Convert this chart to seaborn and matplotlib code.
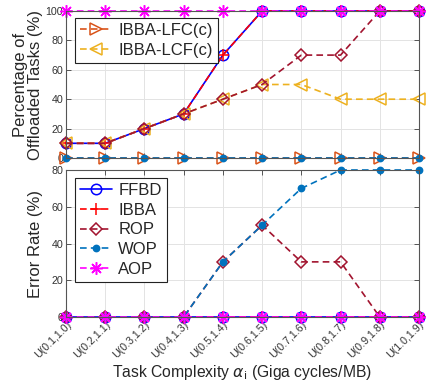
import numpy as np
import pandas as pd
import matplotlib
matplotlib.use("Agg")
import matplotlib.pyplot as plt
import seaborn as sns

# ---------------- data ----------------
x_labels = ["U(0.1,1.0)", "U(0.2,1.1)", "U(0.3,1.2)", "U(0.4,1.3)", "U(0.5,1.4)",
            "U(0.6,1.5)", "U(0.7,1.6)", "U(0.8,1.7)", "U(0.9,1.8)", "U(1.0,1.9)"]
x_pos = list(range(1, 11))

# Percentage of offloaded tasks (%)
off_ffbd = [10, 10, 20, 30, 70, 100, 100, 100, 100, 100]
off_ibba = [10, 10, 20, 30, 70, 100, 100, 100, 100, 100]
off_lfc = [0, 0, 0, 0, 0, 0, 0, 0, 0, 0]
off_lcf = [10, 10, 20, 30, 40, 50, 50, 40, 40, 40]
off_rop = [10, 10, 20, 30, 40, 50, 70, 70, 100, 100]
off_wop = [0, 0, 0, 0, 0, 0, 0, 0, 0, 0]
off_aop = [100, 100, 100, 100, 100, 100, 100, 100, 100, 100]

# Error rate (%)
err_ffbd = [0, 0, 0, 0, 0, 0, 0, 0, 0, 0]
err_ibba = [0, 0, 0, 0, 0, 0, 0, 0, 0, 0]
err_rop = [0, 0, 0, 0, 30, 50, 30, 30, 0, 0]
err_wop = [0, 0, 0, 0, 30, 50, 70, 80, 80, 80]
err_aop = [0, 0, 0, 0, 0, 0, 0, 0, 0, 0]

# ---------------- style ----------------
sns.set_theme(style="whitegrid")
plt.rcParams["font.family"] = ["Liberation Sans", "DejaVu Sans"]
plt.rcParams["axes.edgecolor"] = "#555555"
plt.rcParams["axes.linewidth"] = 0.8
plt.rcParams["grid.color"] = "#e3e3e3"
plt.rcParams["grid.linewidth"] = 0.7

C_BLUE = "#0000ff"
C_RED = "#ff0000"
C_ROP = "#a2142f"
C_WOP = "#0072bd"
C_LFC = "#d95319"
C_LCF = "#edb120"
C_AOP = "#ff00ff"
STAR = (8, 2, 0)

fig = plt.figure(figsize=(4.27, 3.91), dpi=100)
W, H = 427.0, 391.0
ax_l, ax_r = 66 / W, 419 / W
ax1 = fig.add_axes([ax_l, 1 - 158 / H, ax_r - ax_l, (158 - 11) / H])
ax2 = fig.add_axes([ax_l, 1 - 317 / H, ax_r - ax_l, (317 - 170) / H])


def draw(ax, y, color, marker, ls, ms, mew=1.1, fill=False, label=None):
    sns.lineplot(x=x_pos, y=y, ax=ax, color=color, marker=marker, linestyle=ls,
                 markersize=ms, markeredgewidth=mew, linewidth=1.2,
                 markerfacecolor=(color if fill else "none"), markeredgecolor=color,
                 clip_on=False, label=label, legend=False)
    return ax.get_lines()[-1]


DASH = (0, (4, 2.5))

# top axes
draw(ax1, off_ffbd, C_BLUE, "o", "-", 7.5)
draw(ax1, off_ibba, C_RED, "+", DASH, 9)
h_lfc = draw(ax1, off_lfc, C_LFC, ">", DASH, 8.5, label="IBBA-LFC(c)")
h_lcf = draw(ax1, off_lcf, C_LCF, "<", DASH, 8.5, label="IBBA-LCF(c)")
draw(ax1, off_rop, C_ROP, "D", DASH, 6)
draw(ax1, off_wop, C_WOP, "o", DASH, 4.5, fill=True)
draw(ax1, off_aop, C_AOP, STAR, DASH, 9)

# bottom axes
h_ffbd = draw(ax2, err_ffbd, C_BLUE, "o", "-", 7.5, label="FFBD")
h_ibba = draw(ax2, err_ibba, C_RED, "+", DASH, 9, label="IBBA")
h_rop = draw(ax2, err_rop, C_ROP, "D", DASH, 6, label="ROP")
h_wop = draw(ax2, err_wop, C_WOP, "o", DASH, 4.5, fill=True, label="WOP")
h_aop = draw(ax2, err_aop, C_AOP, STAR, DASH, 9, label="AOP")

for ax in (ax1, ax2):
    ax.set_xlim(1, 10)
    ax.set_xticks(x_pos)
    ax.tick_params(direction="in", length=3.5, width=0.7, colors="#555555",
                   labelcolor="#333333", labelsize=7.7, top=True, right=True,
                   left=True, bottom=True, pad=2)
    for s in ax.spines.values():
        s.set_visible(True)
    ax.grid(True)
    ax.set_axisbelow(True)

ax1.set_ylim(0, 100)
ax1.set_yticks([0, 20, 40, 60, 80, 100])
ax1.set_xticklabels([])
ax2.set_ylim(0, 80)
ax2.set_yticks([0, 20, 40, 60, 80])
ax2.set_xticklabels(x_labels, rotation=45, ha="right", rotation_mode="anchor")

ax1.set_ylabel("Percentage of\nOffloaded Tasks (%)", fontsize=12, color="#262626",
               linespacing=1.05)
ax2.set_ylabel("Error Rate (%)", fontsize=12, color="#262626")
ax1.yaxis.set_label_coords(-0.064, 0.5)
ax2.yaxis.set_label_coords(-0.064, 0.5)
ax2.set_xlabel(r"Task Complexity $\alpha_{\mathrm{i}}$ (Giga cycles/MB)", fontsize=11.3,
               color="#262626")
ax2.xaxis.set_label_coords(0.5, -0.31)

leg_kw = dict(loc="upper left", fontsize=12, frameon=True, fancybox=False,
              framealpha=1, edgecolor="#222222", borderpad=0.3, labelspacing=0.28,
              handlelength=1.9, handletextpad=0.4, borderaxespad=0)
lg1 = ax1.legend(handles=[h_lfc, h_lcf], bbox_to_anchor=(75 / W, 1 - 18 / H),
                 bbox_transform=fig.transFigure, **leg_kw)
lg2 = ax2.legend(handles=[h_ffbd, h_ibba, h_rop, h_wop, h_aop],
                 bbox_to_anchor=(75 / W, 1 - 178 / H), bbox_transform=fig.transFigure,
                 **leg_kw)
for lg in (lg1, lg2):
    lg.get_frame().set_linewidth(0.8)

fig.savefig("out.png", dpi=100)
